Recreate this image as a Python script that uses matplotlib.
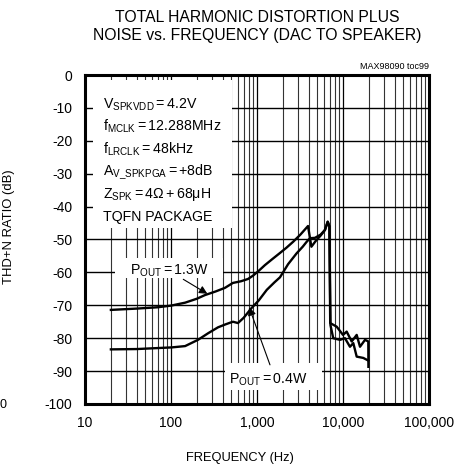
import numpy as np
import matplotlib
matplotlib.use("Agg")
import matplotlib.pyplot as plt
from matplotlib.patches import Rectangle

plt.rcParams["font.family"] = ["Liberation Sans", "DejaVu Sans"]
plt.rcParams["mathtext.fontset"] = "custom"
plt.rcParams["mathtext.rm"] = "Liberation Sans"
plt.rcParams["mathtext.it"] = "Liberation Sans"
plt.rcParams["mathtext.bf"] = "Liberation Sans"

# --- data ---
freq_13w = [20, 40, 70, 100, 146, 200, 248, 330, 424, 525, 650, 786, 898, 1050,
            1235, 1500, 1850, 2200, 2630, 3200, 3920, 4290, 4800, 5500, 6170,
            6640, 6950, 7100, 8450, 10000, 11040, 12620, 14430, 15770, 18040,
            19700, 19750]
thdn_13w = [-71.4, -71.0, -70.6, -70.1, -69.2, -68.0, -66.9, -65.8, -64.7, -63.2,
            -62.7, -62.0, -61.0, -59.5, -57.8, -56.0, -54.1, -52.5, -50.7, -48.5,
            -45.9, -52.2, -50.5, -48.8, -47.1, -44.6, -46.0, -75.4, -76.5, -79.0,
            -78.0, -81.0, -79.0, -82.6, -80.5, -81.0, -88.7]

freq_04w = [20, 40, 70, 102, 146, 206, 270, 352, 430, 486, 526, 601, 700, 867,
            1050, 1300, 1600, 1850, 2300, 2890, 3400, 3780, 4130, 4720, 5500,
            6170, 6640, 6950, 7150, 7700, 9230, 10540, 12050, 13180, 14430,
            17220, 19700]
thdn_04w = [-83.4, -83.3, -83.0, -82.8, -82.4, -80.5, -78.5, -76.7, -75.8, -75.3,
            -75.0, -75.4, -73.8, -70.8, -68.5, -65.3, -63.0, -61.5, -57.5, -54.2,
            -52.2, -50.7, -49.6, -49.5, -48.5, -47.1, -44.6, -46.0, -76.0, -80.0,
            -80.5, -80.0, -82.6, -81.5, -85.6, -86.0, -86.8]

x_ticks = [10, 100, 1000, 10000, 100000]
x_tick_labels = ["10", "100", "1,000", "10,000", "100,000"]
y_ticks = [0, -10, -20, -30, -40, -50, -60, -70, -80, -90, -100]
y_tick_labels = ["0", "-10", "-20", "-30", "-40", "-50", "-60", "-70", "-80", "-90", "-100"]

conditions = [
    r"$\mathregular{V_{SPKVDD} = 4.2V}$",
    r"$\mathregular{f_{MCLK} = 12.288MHz}$",
    r"$\mathregular{f_{LRCLK} = 48kHz}$",
    r"$\mathregular{A_{V\_SPKPGA} = {+}8dB}$",
    r"$\mathregular{Z_{SPK} = 4Ω + 68μH}$",
    "TQFN PACKAGE",
]

# --- figure ---
fig = plt.figure(figsize=(4.69, 4.65), dpi=100)
ax = fig.add_axes([0.1812, 0.1312, 0.7335, 0.7075])

ax.plot(freq_13w, thdn_13w, color="black", lw=1.7, zorder=3)
ax.plot(freq_04w, thdn_04w, color="black", lw=1.7, zorder=3)

ax.set_xscale("log")
ax.set_xlim(10, 100000)
ax.set_ylim(-100, 0)

# grid: every 1..9 per decade, every 10 dB
for dec in [10, 100, 1000, 10000]:
    for m in range(2, 10):
        ax.axvline(dec * m, color="#333333", lw=0.8, zorder=0.5)
for xt in x_ticks:
    ax.axvline(xt, color="black", lw=0.9, zorder=0.5)
for yt in y_ticks:
    ax.axhline(yt, color="black", lw=1.0, zorder=0.5)

ax.set_xticks(x_ticks)
ax.set_xticklabels(x_tick_labels)
ax.set_xticks([], minor=True)
ax.set_yticks(y_ticks)
ax.set_yticklabels(y_tick_labels)
ax.tick_params(length=0, labelsize=10, pad=9)

for s in ax.spines.values():
    s.set_linewidth(2.2)
    s.set_zorder(5)

# white boxes that hide the grid behind the annotations
for (x0, y0, w, h) in [(0.023, 0.535, 0.404, 0.450),
                       (0.087, 0.383, 0.314, 0.061),
                       (0.407, 0.043, 0.282, 0.082)]:
    ax.add_patch(Rectangle((x0, y0), w, h, transform=ax.transAxes,
                           facecolor="white", edgecolor="none", zorder=1))

for i, line in enumerate(conditions):
    ax.text(0.051, 0.899 - i * 0.0684, line, transform=ax.transAxes,
            fontsize=10.2, va="baseline", ha="left", zorder=4)

ax.text(0.131, 0.394, r"$\mathregular{P_{OUT} = 1.3W}$", transform=ax.transAxes,
        fontsize=10.2, va="baseline", zorder=4)
ax.text(0.419, 0.063, r"$\mathregular{P_{OUT} = 0.4W}$", transform=ax.transAxes,
        fontsize=10.2, va="baseline", zorder=4)

arrow = dict(arrowstyle="-|>", color="black", lw=0.8, mutation_scale=12,
             shrinkA=0, shrinkB=0)
ax.annotate("", xy=(265, -66.5), xytext=(139, -62.1), arrowprops=arrow, zorder=4)
ax.annotate("", xy=(810, -70.6), xytext=(1416, -88.1), arrowprops=arrow, zorder=4)

ax.text(1.0, 1.012, "MAX98090 toc99", transform=ax.transAxes, fontsize=6.5,
        ha="right", va="bottom")

ax.set_xlabel("FREQUENCY (Hz)", fontsize=9.3)
ax.xaxis.set_label_coords(0.45, -0.146)
ax.set_ylabel("THD+N RATIO (dB)", fontsize=9.4)
ax.yaxis.set_label_coords(-0.203, 0.538)

fig.text(0.548, 0.944, "TOTAL HARMONIC DISTORTION PLUS\nNOISE vs. FREQUENCY (DAC TO SPEAKER)",
         ha="center", va="center", fontsize=11.3, linespacing=1.25)

fig.text(0.0, 1 - 405 / 465, "0", ha="left", va="center", fontsize=9)

fig.savefig("out.png", dpi=100)
